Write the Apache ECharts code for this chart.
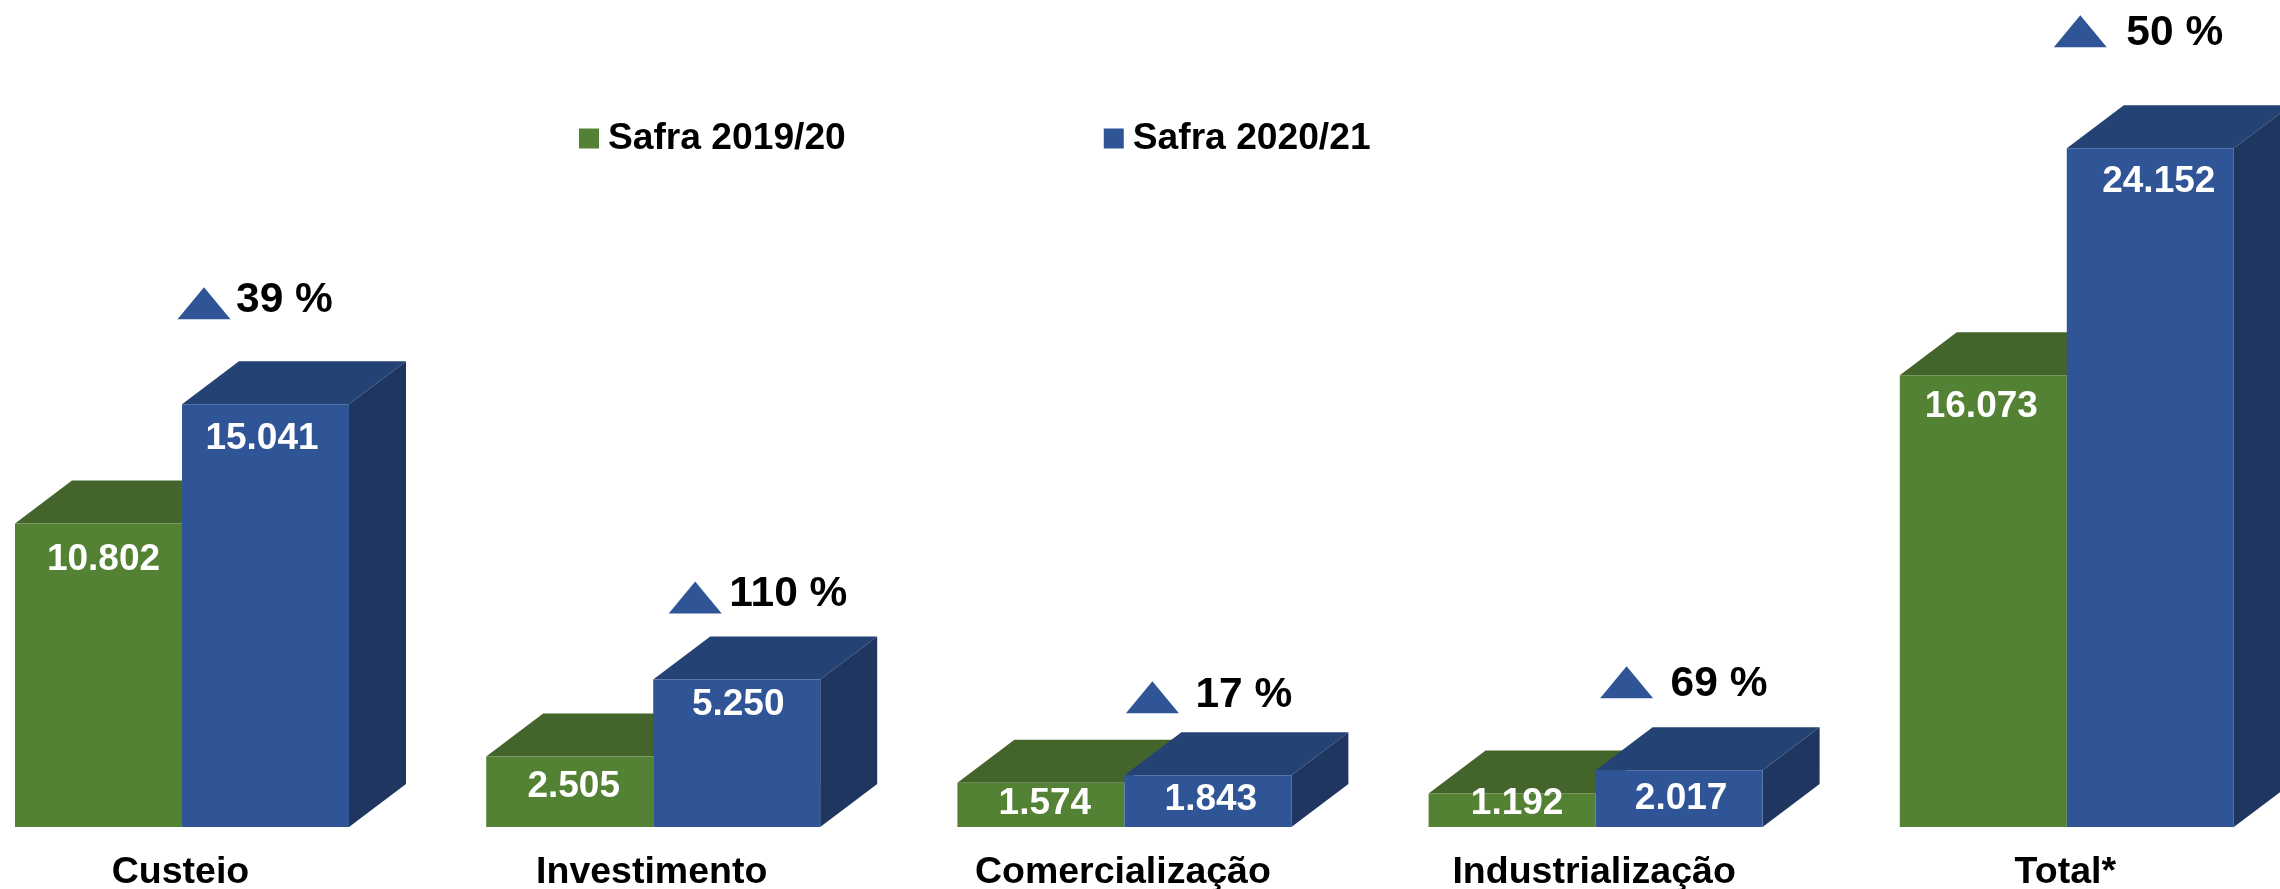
<!DOCTYPE html>
<html><head><meta charset="utf-8">
<style>html,body{margin:0;padding:0;background:#fff}#c{width:2280px;height:889px}</style>
<script src="https://cdn.jsdelivr.net/npm/echarts@6/dist/echarts.min.js"></script>
</head><body><div id="c"></div>
<script>
const categories = ['Custeio','Investimento','Comercialização','Industrialização','Total*'];
const safra1920 = [10802, 2505, 1574, 1192, 16073];
const safra2021 = [15041, 5250, 1843, 2017, 24152];
const variation = ['39 %','110 %','17 %','69 %','50 %'];
const names = ['Safra 2019/20','Safra 2020/21'];

// styling / layout constants
const FONT = '"Liberation Sans", Arial, sans-serif';
const BAR_W = 167, DX = 57, DY = 43;
const GREEN = {front:'#548235', top:'#43642a'};
const BLUE  = {front:'#2f5597', top:'#254274', side:'#1f3660'};
// per-bar label nudges [dx, drop below bar top to text centre]
const LABEL_G = [[5,36],[4,30],[4,21],[5,10],[-2,31]];
const LABEL_B = [[-3.5,34],[1.5,25],[3,24],[2,28],[8.5,33]];
// per-group annotation placement relative to blue bar
const ANNOT = [[22,42,32,19],[42,23,34,19],[28,19,43,18],[31,29,44,14],[13.5,58,46,14]];

const fmt = v => String(v).replace(/\B(?=(\d{3})+$)/g,'.');

function faces(sign, col){
  return function(params, api){
    const i = api.value(0), p = api.coord([i, api.value(1)]), base = api.coord([i,0]);
    const xl = sign<0 ? p[0]-BAR_W : p[0], xr = xl+BAR_W, yt = p[1], yb = base[1];
    const kids = [
      {type:'polygon',shape:{points:[[xl,yt],[xl+DX,yt-DY],[xr+DX,yt-DY],[xr,yt]]},style:{fill:col.top}}
    ];
    if(col.side) kids.push({type:'polygon',shape:{points:[[xr,yt],[xr+DX,yt-DY],[xr+DX,yb-DY],[xr,yb]]},style:{fill:col.side}});
    return {type:'group',children:kids};
  };
}
function barData(vals, offs){
  return vals.map((v,i)=>({value:v,label:{offset:[offs[i][0],offs[i][1]-18]}}));
}
const option = {
  animation:false, backgroundColor:'#fff',
  grid:{left:-53.6,top:0,width:2356,height:827,containLabel:false,outerBoundsMode:'none'},
  xAxis:{type:'category',data:categories,axisLine:{show:false},axisTick:{show:false},
    axisLabel:{color:'#000',fontFamily:FONT,fontWeight:'bold',fontSize:37.5,margin:27,interval:0,padding:[0,3,0,0]}},
  yAxis:{type:'value',min:0,max:29430,show:false,splitLine:{show:false}},
  legend:{data:names,left:574,top:115,itemWidth:20,itemHeight:20,itemGap:258,icon:'rect',
    textStyle:{color:'#000',fontFamily:FONT,fontWeight:'bold',fontSize:37.2,padding:[0,0,0,4]}},
  tooltip:{show:false},
  series:[
    {name:'faces1',type:'custom',z:1,silent:true,encode:{x:0,y:1},data:safra1920.map((v,i)=>[i,v]),renderItem:faces(-1,GREEN)},
    {name:'faces2',type:'custom',z:1,silent:true,encode:{x:0,y:1},data:safra2021.map((v,i)=>[i,v]),renderItem:faces(1,BLUE)},
    {name:names[0],type:'bar',z:2,barWidth:BAR_W,barGap:0,itemStyle:{color:GREEN.front},data:barData(safra1920,LABEL_G),
      label:{show:true,position:'insideTop',distance:0,color:'#fff',fontFamily:FONT,fontWeight:'bold',fontSize:37,formatter:p=>fmt(p.value)}},
    {name:names[1],type:'bar',z:2,barWidth:BAR_W,barGap:0,itemStyle:{color:BLUE.front},data:barData(safra2021,LABEL_B),
      label:{show:true,position:'insideTop',distance:0,color:'#fff',fontFamily:FONT,fontWeight:'bold',fontSize:37,formatter:p=>fmt(p.value)}},
    {name:'variation',type:'custom',z:3,silent:true,encode:{x:0,y:1},data:safra2021.map((v,i)=>[i,v]),
      renderItem(params,api){
        const i=api.value(0), p=api.coord([i,api.value(1)]), a=ANNOT[i];
        const cx=p[0]+a[0], by=p[1]-DY-a[1];
        return {type:'group',children:[
          {type:'polygon',shape:{points:[[cx-26.5,by],[cx,by-32],[cx+26.5,by]]},style:{fill:BLUE.front}},
          {type:'text',style:{text:variation[i],x:cx+a[2],y:by-a[3],fill:'#000',font:'bold 42.5px '+FONT,textAlign:'left',textVerticalAlign:'middle'}}
        ]};
      }}
  ]
};
echarts.init(document.getElementById('c'),null,{renderer:'canvas'}).setOption(option);
</script></body></html>
